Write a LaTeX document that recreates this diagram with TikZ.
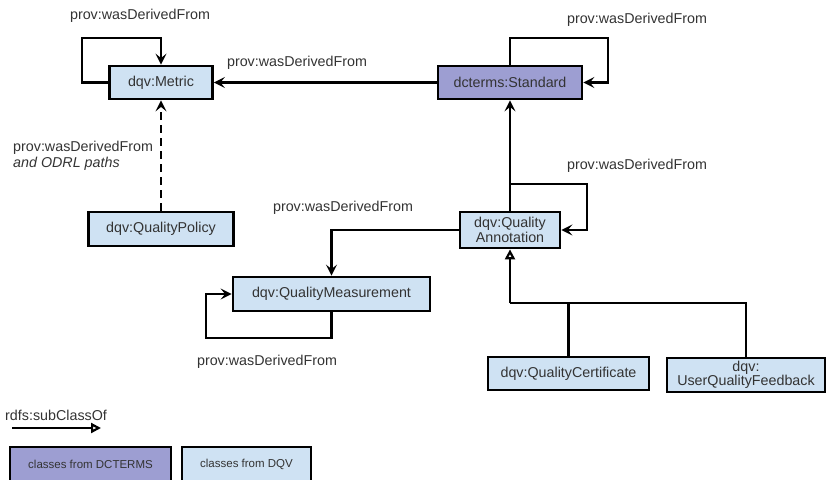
\documentclass[tikz,border=0pt]{standalone}
\usepackage{fontspec}
\setmainfont{Liberation Sans}
\usetikzlibrary{arrows.meta}
\definecolor{dqvblue}{HTML}{CFE2F3}
\definecolor{dcpurple}{HTML}{9D9ED2}
\definecolor{txt}{HTML}{333333}
\tikzset{
  box/.style={draw=black, line width=2.8pt, rectangle, inner sep=1pt, text=txt, align=center, font=\fontsize{14.3}{15.5}\selectfont},
  dqvbox/.style={box, fill=dqvblue},
  dcbox/.style={box, fill=dcpurple},
  conn/.style={line width=2.7pt, draw=black},
  arr/.style={conn, -{Stealth[length=11pt,width=11pt,inset=4.5pt]}},
  subarr/.style={conn, -{Triangle[open,length=10pt,width=10pt,line width=2.2pt]}},
  lbl/.style={text=txt, font=\fontsize{14.3}{16.5}\selectfont, inner sep=0pt},
  leg/.style={box, font=\fontsize{11.5}{13}\selectfont}
}
\begin{document}
\begin{tikzpicture}[x=1pt,y=-1pt]
\useasboundingbox (0,0) rectangle (829,479);
\clip (0,0) rectangle (829,479);
% nodes
\node[dqvbox, minimum width=103pt, minimum height=33pt] (metric) at (161,82.5) {dqv:Metric};
\node[dcbox, minimum width=144pt, minimum height=33pt] (std) at (510,82.5) {dcterms:Standard};
\node[dqvbox, minimum width=100pt, minimum height=36pt] (qa) at (510,230) {dqv:Quality\\Annotation};
\node[dqvbox, minimum width=145pt, minimum height=34pt] (policy) at (161,229) {dqv:QualityPolicy};
\node[dqvbox, minimum width=197pt, minimum height=34pt] (qm) at (331.5,294) {dqv:QualityMeasurement};
\node[dqvbox, minimum width=161pt, minimum height=33pt] (qc) at (568.5,373.5) {dqv:QualityCertificate};
\node[dqvbox, minimum width=158pt, minimum height=34pt, font=\fontsize{14.3}{14.5}\selectfont] (uqf) at (746,375) {dqv:\\UserQualityFeedback};
% legend boxes
\node[leg, fill=dcpurple, minimum width=161pt, minimum height=40pt] (legdc) at (90.5,467) {};
\node[leg, fill=dqvblue, minimum width=129pt, minimum height=40pt] (legdqv) at (246.5,467) {};
\node[lbl, font=\fontsize{11.5}{13}\selectfont] (legdct) at (90.5,464) {classes from DCTERMS};
\node[lbl, font=\fontsize{11.5}{13}\selectfont] (legdqvt) at (246.5,464) {classes from DQV};
% connectors
\draw[arr] (metric.west) -| (82,38) -| (metric.north);
\draw[arr] (std.north) |- (608,38) |- (std.east);
\draw[arr] (std.west) -- (metric.east);
\draw[arr] (qa.north) -- (std.south);
\coordinate (qaloop) at (510,184);
\draw[arr] (qaloop) -| (587,230) -- (qa.east);
\draw[arr] (qa.west) -| (qm.north);
\draw[arr] (qm.south) |- (206,338) |- (qm.west);
\draw[arr, dash pattern=on 8pt off 5pt] (policy.north) -- (metric.south);
\coordinate (junc) at (510,303);
\draw[conn] (uqf.north) |- (junc);
\draw[conn] (qc.north) -- (qc.north |- junc);
\draw[subarr] (junc) -- (qa.south);
% labels
\node[lbl] (l1) at (140,16) {prov:wasDerivedFrom};
\node[lbl] (l2) at (297,63) {prov:wasDerivedFrom};
\node[lbl] (l3) at (637,20) {prov:wasDerivedFrom};
\node[lbl] (l4) at (637,166) {prov:wasDerivedFrom};
\node[lbl] (l5) at (343,208) {prov:wasDerivedFrom};
\node[lbl] (l6) at (267,362) {prov:wasDerivedFrom};
\node[lbl, anchor=west, align=left] (l7) at (13,156) {prov:wasDerivedFrom\\\textit{and ODRL paths}};
% legend arrow
\node[lbl, anchor=west] (legsub) at (5,415) {rdfs:subClassOf};
\coordinate (lega) at (12,428);
\coordinate (legb) at (101,428);
\draw[subarr] (lega) -- (legb);
\end{tikzpicture}
\end{document}
